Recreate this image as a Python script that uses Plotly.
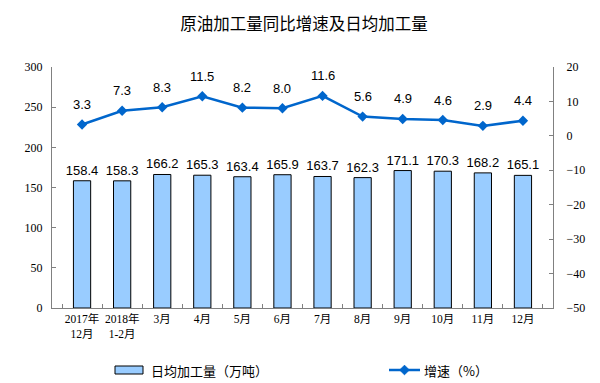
import plotly.graph_objects as go

categories = ["2017年<br>12月", "2018年<br>1-2月", "3月", "4月", "5月", "6月", "7月", "8月", "9月", "10月", "11月", "12月"]
daily_output = [158.4, 158.3, 166.2, 165.3, 163.4, 165.9, 163.7, 162.3, 171.1, 170.3, 168.2, 165.1]
growth = [3.3, 7.3, 8.3, 11.5, 8.2, 8.0, 11.6, 5.6, 4.9, 4.6, 2.9, 4.4]
bar_name = "日均加工量（万吨）"
line_name = "增速（%）"

BAR_COLOR = "#99CCFF"
LINE_COLOR = "#0066CC"
tick_font = dict(family="Liberation Serif, Noto Sans CJK SC", size=12, color="black")
xtick_font = dict(family="Liberation Serif, Noto Sans CJK SC", size=11.5, color="black")
label_font = dict(family="Liberation Sans, Arial", size=13, color="black")
legend_font = dict(family="Noto Sans CJK SC", size=13, color="black")

fig = go.Figure()
fig.add_trace(go.Bar(
    x=categories, y=daily_output, name=bar_name,
    marker=dict(color=BAR_COLOR, line=dict(color="black", width=1)),
    text=[f"{v:.1f}" for v in daily_output], textposition="outside", constraintext="none",
    textfont=label_font, cliponaxis=False, showlegend=False,
))
fig.add_trace(go.Scatter(
    x=categories, y=growth, name=line_name, yaxis="y2", mode="lines+markers",
    line=dict(color=LINE_COLOR, width=2.5),
    marker=dict(symbol="diamond", size=8, color=LINE_COLOR),
    showlegend=False,
))
for c, v in zip(categories, growth):
    fig.add_annotation(x=c, y=v, yref="y2", text=f"{v:.1f}", showarrow=False,
                       yshift=20, font=label_font)

# plot area spans 501 x 241 px; helpers convert page px to paper coords for the legend
PW, PH = 501.0, 241.0
def px(xp):
    return (xp - 52) / PW
def py(yp):
    return (308 - yp) / PH

# legend: bar swatch
fig.add_shape(type="rect", xref="paper", yref="paper", x0=px(115), x1=px(143), y0=py(374), y1=py(366),
              fillcolor=BAR_COLOR, line=dict(color="black", width=1))
fig.add_annotation(xref="paper", yref="paper", x=px(149), y=py(370), xanchor="left", yanchor="middle",
                   text=bar_name, showarrow=False, font=legend_font)
# legend: line swatch with diamond
fig.add_shape(type="line", xref="paper", yref="paper", x0=px(389), x1=px(420), y0=py(370), y1=py(370),
              line=dict(color=LINE_COLOR, width=2.5))
cx, cy, r = 404.5, 370, 4.8
diamond = (f"M {px(cx - r)} {py(cy)} L {px(cx)} {py(cy - r)} "
           f"L {px(cx + r)} {py(cy)} L {px(cx)} {py(cy + r)} Z")
fig.add_shape(type="path", xref="paper", yref="paper", path=diamond,
              fillcolor=LINE_COLOR, line=dict(color=LINE_COLOR, width=1))
fig.add_annotation(xref="paper", yref="paper", x=px(422), y=py(370), xanchor="left", yanchor="middle",
                   text=line_name, showarrow=False, font=legend_font)

# page body adds an 8px offset; compensate with a slightly smaller figure
fig.update_layout(
    width=592, height=375,
    margin=dict(l=44, r=47, t=59, b=75, autoexpand=False),
    paper_bgcolor="white", plot_bgcolor="white",
    title=dict(text="原油加工量同比增速及日均加工量", x=0.5, xanchor="center", y=0.957, yanchor="middle",
               font=dict(family="Noto Sans CJK SC", size=16.5, color="black")),
    bargap=0.57,
    showlegend=False,
    xaxis=dict(showline=True, linecolor="#808080", linewidth=1, ticks="inside", ticklen=4,
               tickcolor="#808080", tickson="boundaries", tickfont=xtick_font, tickangle=0),
    yaxis=dict(range=[0, 300], dtick=50, showline=True, linecolor="#808080", ticks="inside",
               ticklen=4, tickcolor="#808080", showgrid=False, zeroline=False, tickfont=tick_font,
               ticklabelstandoff=6),
    yaxis2=dict(range=[-50, 20], dtick=10, overlaying="y", side="right", showline=True,
                linecolor="#808080", ticks="inside", ticklen=4, tickcolor="#808080",
                showgrid=False, zeroline=False, tickfont=tick_font, ticklabelstandoff=10),
)

fig.write_html("out.html")
